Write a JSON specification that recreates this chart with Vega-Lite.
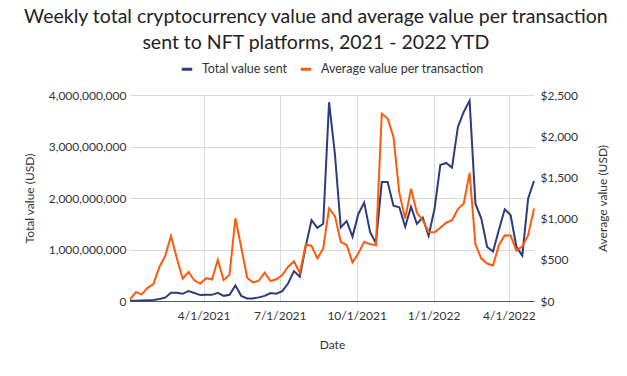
{
  "$schema": "https://vega.github.io/schema/vega-lite/v6.json",
  "width": 404,
  "height": 206,
  "padding": {"left": 22, "top": 6, "right": 5, "bottom": 5},
  "background": "white",
  "title": {
    "text": ["Weekly total cryptocurrency value and average value per transaction", "sent to NFT platforms, 2021 - 2022 YTD"],
    "fontSize": 19.5,
    "fontWeight": "normal",
    "font": "Lato",
    "color": "#222222",
    "anchor": "middle",
    "frame": "bounds",
    "lineHeight": 26,
    "offset": 9
  },
  "config": {
    "font": "Lato",
    "view": {"stroke": null},
    "axis": {"labelFont": "Lato", "titleFont": "Lato", "labelColor": "#333333", "titleColor": "#333333", "labelFontSize": 12, "titleFontSize": 12, "titleFontWeight": "normal", "gridColor": "#d9d9d9", "gridWidth": 1, "gridOpacity": 1, "ticks": false, "domain": false},
    "legend": {"labelFont": "Lato", "labelFontSize": 12.5, "labelColor": "#333333", "labelLimit": 400, "layout": {"top": {"anchor": "middle"}}}
  },
  "data": {
    "values": [
      {"date": "2021-01-03", "total": 0.005, "avg": 20},
      {"date": "2021-01-10", "total": 0.005, "avg": 107},
      {"date": "2021-01-17", "total": 0.01, "avg": 81},
      {"date": "2021-01-24", "total": 0.015, "avg": 160},
      {"date": "2021-01-31", "total": 0.02, "avg": 204},
      {"date": "2021-02-07", "total": 0.04, "avg": 410},
      {"date": "2021-02-14", "total": 0.065, "avg": 545},
      {"date": "2021-02-21", "total": 0.16, "avg": 790},
      {"date": "2021-02-28", "total": 0.16, "avg": 520},
      {"date": "2021-03-07", "total": 0.14, "avg": 270},
      {"date": "2021-03-14", "total": 0.195, "avg": 353},
      {"date": "2021-03-21", "total": 0.155, "avg": 248},
      {"date": "2021-03-28", "total": 0.115, "avg": 212},
      {"date": "2021-04-04", "total": 0.12, "avg": 277},
      {"date": "2021-04-11", "total": 0.12, "avg": 260},
      {"date": "2021-04-18", "total": 0.16, "avg": 500},
      {"date": "2021-04-25", "total": 0.10, "avg": 252},
      {"date": "2021-05-02", "total": 0.12, "avg": 320},
      {"date": "2021-05-09", "total": 0.30, "avg": 1004},
      {"date": "2021-05-16", "total": 0.10, "avg": 650},
      {"date": "2021-05-23", "total": 0.05, "avg": 283},
      {"date": "2021-05-30", "total": 0.05, "avg": 226},
      {"date": "2021-06-06", "total": 0.07, "avg": 246},
      {"date": "2021-06-13", "total": 0.10, "avg": 343},
      {"date": "2021-06-20", "total": 0.155, "avg": 242},
      {"date": "2021-06-27", "total": 0.14, "avg": 263},
      {"date": "2021-07-04", "total": 0.19, "avg": 315},
      {"date": "2021-07-11", "total": 0.34, "avg": 416},
      {"date": "2021-07-18", "total": 0.58, "avg": 480},
      {"date": "2021-07-25", "total": 0.47, "avg": 343},
      {"date": "2021-08-01", "total": 1.05, "avg": 680},
      {"date": "2021-08-08", "total": 1.57, "avg": 671},
      {"date": "2021-08-15", "total": 1.42, "avg": 517},
      {"date": "2021-08-22", "total": 1.50, "avg": 638},
      {"date": "2021-08-29", "total": 3.86, "avg": 1125},
      {"date": "2021-09-05", "total": 2.85, "avg": 1030},
      {"date": "2021-09-12", "total": 1.43, "avg": 719},
      {"date": "2021-09-19", "total": 1.55, "avg": 679},
      {"date": "2021-09-26", "total": 1.25, "avg": 469},
      {"date": "2021-10-03", "total": 1.69, "avg": 578},
      {"date": "2021-10-10", "total": 1.91, "avg": 719},
      {"date": "2021-10-17", "total": 1.34, "avg": 691},
      {"date": "2021-10-24", "total": 1.12, "avg": 677},
      {"date": "2021-10-31", "total": 2.31, "avg": 2272},
      {"date": "2021-11-07", "total": 2.31, "avg": 2215},
      {"date": "2021-11-14", "total": 1.85, "avg": 1990},
      {"date": "2021-11-21", "total": 1.82, "avg": 1310},
      {"date": "2021-11-28", "total": 1.44, "avg": 1000},
      {"date": "2021-12-05", "total": 1.83, "avg": 1363},
      {"date": "2021-12-12", "total": 1.50, "avg": 1070},
      {"date": "2021-12-19", "total": 1.62, "avg": 980},
      {"date": "2021-12-26", "total": 1.27, "avg": 838},
      {"date": "2022-01-02", "total": 1.78, "avg": 834},
      {"date": "2022-01-09", "total": 2.64, "avg": 889},
      {"date": "2022-01-16", "total": 2.68, "avg": 950},
      {"date": "2022-01-23", "total": 2.59, "avg": 980},
      {"date": "2022-01-30", "total": 3.38, "avg": 1115},
      {"date": "2022-02-06", "total": 3.67, "avg": 1184},
      {"date": "2022-02-13", "total": 3.89, "avg": 1555},
      {"date": "2022-02-20", "total": 1.89, "avg": 687},
      {"date": "2022-02-27", "total": 1.60, "avg": 515},
      {"date": "2022-03-06", "total": 1.05, "avg": 455},
      {"date": "2022-03-13", "total": 0.96, "avg": 430},
      {"date": "2022-03-20", "total": 1.38, "avg": 677},
      {"date": "2022-03-27", "total": 1.78, "avg": 798},
      {"date": "2022-04-03", "total": 1.67, "avg": 794},
      {"date": "2022-04-10", "total": 1.05, "avg": 612},
      {"date": "2022-04-17", "total": 0.88, "avg": 663},
      {"date": "2022-04-24", "total": 1.99, "avg": 798},
      {"date": "2022-05-01", "total": 2.33, "avg": 1121}
    ]
  },
  "transform": [{"calculate": "datum.total * 1000000000", "as": "total_usd"}],
  "encoding": {
    "x": {
      "field": "date",
      "type": "temporal",
      "scale": {"type": "utc", "nice": false},
      "axis": {
        "title": "Date",
        "values": [
          {"year": 2021, "month": 4, "date": 1, "utc": true},
          {"year": 2021, "month": 7, "date": 1, "utc": true},
          {"year": 2021, "month": 10, "date": 1, "utc": true},
          {"year": 2022, "month": 1, "date": 1, "utc": true},
          {"year": 2022, "month": 4, "date": 1, "utc": true}
        ],
        "labelExpr": "utcFormat(datum.value, '%-m/%-d/%Y')",
        "grid": true,
        "gridColor": "#d9d9d9",
        "domain": true,
        "domainColor": "#555555",
        "labelPadding": 9,
        "titlePadding": 18,
        "labelFlush": false
      }
    }
  },
  "layer": [
    {
      "mark": {"type": "line", "strokeWidth": 2},
      "encoding": {
        "y": {
          "field": "total_usd",
          "type": "quantitative",
          "scale": {"domain": [0, 4000000000], "nice": false},
          "axis": {"title": "Total value (USD)", "values": [0, 1000000000, 2000000000, 3000000000, 4000000000], "format": ",d", "grid": true, "gridColor": "#d9d9d9", "labelPadding": 4, "titlePadding": 12}
        },
        "color": {
          "datum": "Total value sent",
          "scale": {"domain": ["Total value sent", "Average value per transaction"], "range": ["#2c3c7c", "#ff5a0c"]},
          "legend": {"title": null, "orient": "top", "direction": "horizontal", "symbolType": "stroke", "symbolStrokeWidth": 3, "symbolSize": 110, "columnPadding": 6, "labelOffset": 8, "offset": 19}
        }
      }
    },
    {
      "mark": {"type": "line", "strokeWidth": 2},
      "encoding": {
        "y": {
          "field": "avg",
          "type": "quantitative",
          "scale": {"domain": [0, 2500], "nice": false},
          "axis": {"title": "Average value (USD)", "orient": "right", "values": [0, 500, 1000, 1500, 2000, 2500], "format": "$,d", "grid": false, "labelPadding": 6, "titlePadding": 32, "titleAngle": 270}
        },
        "color": {"datum": "Average value per transaction"}
      }
    }
  ],
  "resolve": {"scale": {"y": "independent"}}
}
